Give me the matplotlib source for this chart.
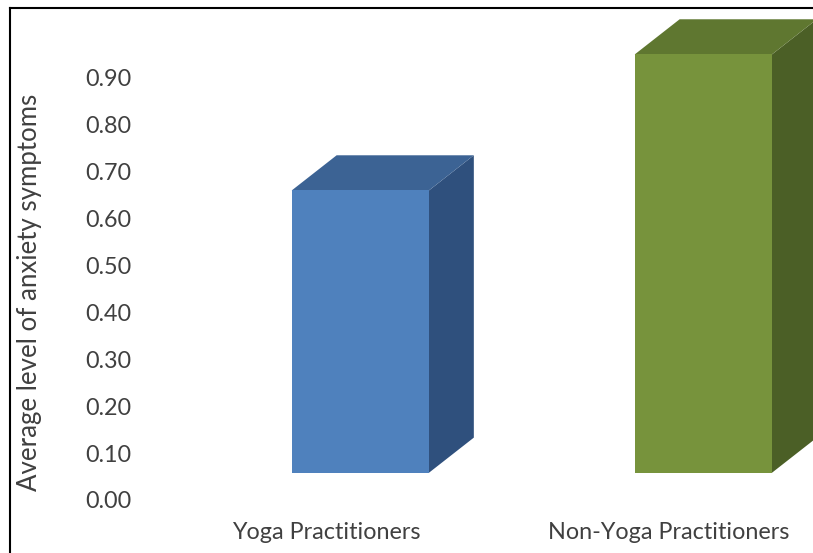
import matplotlib
matplotlib.use("Agg")
import matplotlib.pyplot as plt
from matplotlib.patches import Polygon
from matplotlib.lines import Line2D

# ---- data ----
categories = ["Yoga Practitioners", "Non-Yoga Practitioners"]
values = [0.66, 0.95]
yticks = [0.0, 0.1, 0.2, 0.3, 0.4, 0.5, 0.6, 0.7, 0.8, 0.9]
ylabel = "Average level of anxiety symptoms"

# ---- style ----
front_colors = ["#4F81BD", "#77933C"]
top_colors = ["#3C6394", "#5F7730"]
side_colors = ["#2F507D", "#4B5F26"]
BAR_W = 0.40
FACE_SHIFT = 0.10
FLOOR = 0.058
DEPTH_X = 0.131
DEPTH_Y = 0.075
TEXT_COLOR = "#404040"
FONT = ["Lato", "DejaVu Sans"]

W, H = 813, 553
fig = plt.figure(figsize=(W / 100, H / 100), dpi=100)
fig.patch.set_facecolor("white")
ax = fig.add_axes([138 / W, 53 / H, 675 / W, 469 / H])
ax.set_facecolor("none")
ax.set_ylim(0, 1.0)
ax.set_xlim((138 - 326) / 343, (813 - 326) / 343)

for i, v in enumerate(values):
    x0 = i + FACE_SHIFT - BAR_W / 2
    x1 = i + FACE_SHIFT + BAR_W / 2
    front = Polygon([(x0, FLOOR), (x1, FLOOR), (x1, v), (x0, v)],
                    closed=True, facecolor=front_colors[i], edgecolor="none", clip_on=False)
    top = Polygon([(x0, v), (x1, v), (x1 + DEPTH_X, v + DEPTH_Y), (x0 + DEPTH_X, v + DEPTH_Y)],
                  closed=True, facecolor=top_colors[i], edgecolor="none", clip_on=False)
    side = Polygon([(x1, FLOOR), (x1 + DEPTH_X, FLOOR + DEPTH_Y), (x1 + DEPTH_X, v + DEPTH_Y), (x1, v)],
                   closed=True, facecolor=side_colors[i], edgecolor="none", clip_on=False)
    for p in (side, top, front):
        ax.add_patch(p)

ax.set_yticks(yticks)
ax.set_yticklabels([f"{t:.2f}" for t in yticks], fontsize=16.8, color=TEXT_COLOR, family=FONT)
ax.set_xticks(range(len(categories)))
ax.set_xticklabels(categories, fontsize=16.8, color=TEXT_COLOR, family=FONT)
ax.tick_params(axis="y", length=0, pad=5)
ax.tick_params(axis="x", length=0, pad=16)
for s in ax.spines.values():
    s.set_visible(False)

fig.text(30 / W, 1 - 292 / H, ylabel, rotation=90, ha="center", va="center",
         fontsize=18.6, color=TEXT_COLOR, family=FONT)

# outer frame (top and left edges)
fig.add_artist(Line2D([10 / W, 1], [1 - 8 / H, 1 - 8 / H], color="black", lw=1.5))
fig.add_artist(Line2D([10 / W, 10 / W], [0, 1 - 8 / H], color="black", lw=1.5))

fig.savefig("out.png", dpi=100)
